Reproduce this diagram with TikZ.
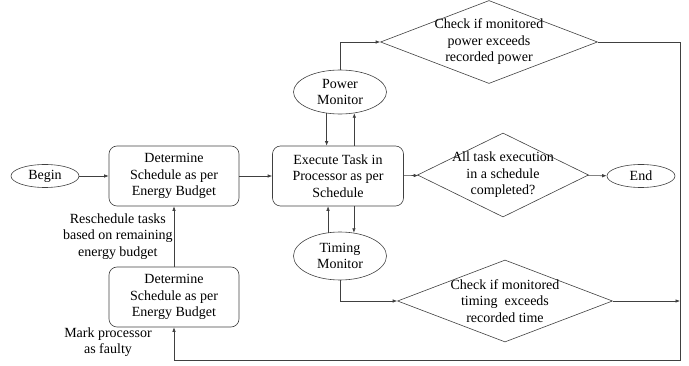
\documentclass[tikz,border=0pt]{standalone}
\usepackage{fontspec}
\setmainfont{Liberation Serif}
\usetikzlibrary{shapes.geometric,arrows.meta}
\begin{document}
\begin{tikzpicture}[x=1pt,y=-1pt,
  font=\fontsize{14}{16.5}\selectfont,
  wire/.style={draw=black!75, line width=0.6pt},
  arr/.style={wire, -{Latex[length=4.5pt,width=3.5pt]}},
  procbox/.style={wire, rounded corners=8pt, minimum width=130pt, minimum height=60pt, align=center, inner sep=0pt},
  termnode/.style={wire, ellipse, minimum width=68pt, minimum height=23pt, inner sep=0pt},
  monnode/.style={wire, ellipse, minimum width=93pt, minimum height=44pt, align=center, inner sep=0pt},
  decision/.style={wire, diamond, inner sep=0pt}]
\useasboundingbox (0,0) rectangle (689,366);
\node[termnode] (begin) at (45,176) {Begin};
\node[procbox] (det1) at (174,176) {Determine\\Schedule as per\\Energy Budget};
\node[procbox] (det2) at (174,297) {Determine\\Schedule as per\\Energy Budget};
\node[procbox, minimum width=131pt] (exec) at (338,176) {Execute Task in\\Processor as per\\Schedule};
\node[monnode] (powmon) at (340,92) {Power\\Monitor};
\node[monnode, minimum height=48pt] (timmon) at (340,256) {Timing\\Monitor};
\node[decision, minimum width=217pt, minimum height=83pt,
  label={[align=center]center:{Check if monitored\\power exceeds\\recorded power}}] (chkpow) at (489,42) {};
\node[decision, minimum width=171pt, minimum height=84pt,
  label={[align=center]center:{All task execution\\in a schedule\\completed?}}] (done) at (503,175) {};
\node[decision, minimum width=215pt, minimum height=82pt,
  label={[align=center]center:{Check if monitored\\timing\ \ exceeds\\recorded time}}] (chktime) at (505,301) {};
\node[termnode] (endn) at (641,176) {End};
\node[align=center] (faulty) at (108,342) {Mark processor\\as faulty};
\coordinate (rgt) at (680,360);

\draw[arr] (begin) -- (det1);
\draw[arr] (det1) -- (exec);
\draw[arr] (exec) -- (done);
\draw[arr] (done) -- (endn);
\draw[arr] (det2) -- node[left, align=center, inner sep=1pt] (resched) {Reschedule tasks\\based on remaining\\energy budget} (det1);
\draw[arr] (powmon.238) -- (powmon.238 |- exec.north);
\draw[arr] (exec.north -| powmon.304) -- (powmon.304);
\draw[arr] (timmon.117) -- (timmon.117 |- exec.south);
\draw[arr] (exec.south -| timmon.59) -- (timmon.59);
\draw[arr] (powmon.north) |- (chkpow.west);
\draw[arr] (timmon.south) |- (chktime.west);
\draw[arr] (chkpow.east) -| (rgt) -| (det2.south);
\draw[arr] (chktime.east) -- (chktime.east -| rgt);
\end{tikzpicture}
\end{document}
